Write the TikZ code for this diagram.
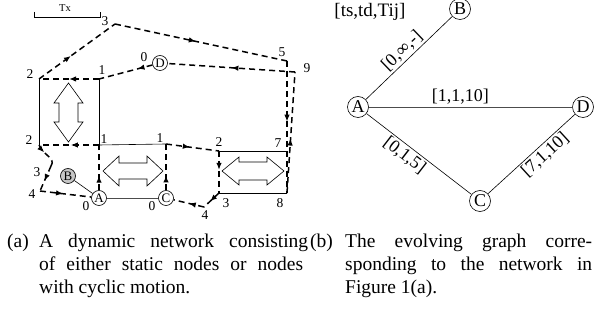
\documentclass[tikz,border=0pt]{standalone}
\usepackage{fontspec}
\setmainfont{Liberation Serif}
\usetikzlibrary{arrows.meta,decorations.markings}

\tikzset{
  trk/.style={line width=1.5pt, dash pattern=on 6pt off 4pt},
  midarr/.style={postaction={decorate,decoration={markings,
      mark=at position #1 with {\arrow{Latex[length=7pt,width=5.5pt]}}}}},
  midarr/.default=0.5,
  mob/.style={circle, draw, line width=0.6pt, fill=white, minimum size=15pt,
      inner sep=0pt, font=\fontsize{13}{13}\selectfont},
  gnode/.style={circle, draw, line width=0.6pt, fill=white, minimum size=21pt,
      inner sep=0pt, font=\fontsize{18}{18}\selectfont},
  lbl/.style={inner sep=0pt, font=\fontsize{13.5}{13.5}\selectfont},
  elbl/.style={inner sep=2pt, font=\fontsize{18}{18}\selectfont},
  captxt/.style={inner sep=0pt, font=\fontsize{19.5}{23}\selectfont},
  rim/.style={line width=0.6pt},
  dbl/.style={line width=0.6pt, fill=white}
}

\begin{document}
\begin{tikzpicture}[x=1pt, y=-1pt]
    \useasboundingbox (0,0) rectangle (597,320);

    % (a) the network
    \coordinate (txa) at (34,17);
    \coordinate (txb) at (100,17);
    \draw[rim] (txa) ++(0,-5) -- (txa) -- (txb) -- ++(0,-5);
    \node[font=\fontsize{10.5}{10.5}\selectfont] (txlbl) at (65,8) {Tx};

    % corners of the tracks
    \coordinate (d1) at (99,79);
    \coordinate (d2) at (39,79);
    \coordinate (d3) at (115,24);
    \coordinate (d5) at (287,61);
    \coordinate (d7) at (287,151);
    \coordinate (d8) at (287,193);
    \coordinate (d9) at (295,72);
    \coordinate (a1) at (99,145);
    \coordinate (a2) at (39,145);
    \coordinate (a3) at (51,166);
    \coordinate (a4) at (40,191);
    \coordinate (c1) at (166,144);
    \coordinate (c2) at (219,151);
    \coordinate (c3) at (219,193);
    \coordinate (c4) at (204,207);

    \node[mob] (D) at (160,63) {D};
    \node[mob] (A) at (99,198) {A};
    \node[mob] (C) at (166,198) {C};
    \node[mob, fill=gray!45] (B) at (68,176) {B};

    % contact areas
    \draw[rim] (d2) -- (a2);
    \draw[rim] (d1) -- (a1);
    \draw[rim] (a1) -- (c1);
    \draw[rim] (c2) -- (d7);
    \draw[rim] (c3) -- (d8);
    \draw[rim] (B) -- (A);
    \draw[rim, gray!60!black] (A) -- (C);

    \draw[dbl] (68.5,83) -- (83,103) -- (78,103) -- (78,122) -- (83,122) -- (68.5,142)
        -- (54,122) -- (59,122) -- (59,103) -- (54,103) -- cycle;
    \draw[dbl] (103,171) -- (119,156) -- (119,163) -- (147,163) -- (147,156) -- (163,171)
        -- (147,186) -- (147,179) -- (119,179) -- (119,186) -- cycle;
    \draw[dbl] (222,171) -- (239,157) -- (239,162) -- (267,162) -- (267,157) -- (284,171)
        -- (267,185) -- (267,180) -- (239,180) -- (239,185) -- cycle;

    % track of D
    \draw[trk, midarr=0.28] (D) -- (d1);
    \draw[trk, midarr] (d1) -- (d2);
    \draw[trk, midarr=0.42] (d2) -- (d3);
    \draw[trk, midarr=0.47] (d3) -- (d5);
    \draw[trk, midarr=0.46] (d5) -- (d8);
    \draw[trk, midarr=0.45] (d8) -- (d9);
    \draw[trk, midarr] (d9) -- (D);

    % track of A
    \draw[trk, midarr=0.32] (A) -- (a1);
    \draw[trk, midarr=0.47] (a1) -- (a2);
    \draw[trk, midarr=0.35] (a2) .. controls (44,156) and (56,158) .. (a3);
    \draw[trk, midarr=0.6] (a3) -- (a4);
    \draw[trk, midarr=0.45] (a4) -- (A);

    % track of C
    \draw[trk, midarr=0.32] (C) -- (c1);
    \draw[trk, midarr=0.45] (c1) -- (c2);
    \draw[trk, midarr=0.45] (c2) -- (c3);
    \draw[trk, midarr=0.6] (c3) -- (c4);
    \draw[trk, midarr=0.5] (c4) -- (C);

    % times
    \node[lbl] (t-d0) at (144,57) {0};
    \node[lbl] (t-d1) at (102,70) {1};
    \node[lbl] (t-d2) at (30,74) {2};
    \node[lbl] (t-d3) at (105,21) {3};
    \node[lbl] (t-d5) at (282,52) {5};
    \node[lbl] (t-d7) at (278,143) {7};
    \node[lbl] (t-d8) at (280,203) {8};
    \node[lbl] (t-d9) at (307,68) {9};
    \node[lbl] (t-a0) at (86,206) {0};
    \node[lbl] (t-a1) at (104,139) {1};
    \node[lbl] (t-a2) at (29,140) {2};
    \node[lbl] (t-a3) at (37,172) {3};
    \node[lbl] (t-a4) at (32,194) {4};
    \node[lbl] (t-c0) at (152,206) {0};
    \node[lbl] (t-c1) at (160,138) {1};
    \node[lbl] (t-c2) at (219,142) {2};
    \node[lbl] (t-c3) at (226,203) {3};
    \node[lbl] (t-c4) at (205,215) {4};

    % (b) the evolving graph
    \node[gnode] (gA) at (358,107) {A};
    \node[gnode] (gB) at (460,9) {B};
    \node[gnode] (gC) at (480,201) {C};
    \node[gnode] (gD) at (583,107) {D};
    \node[font=\fontsize{19}{19}\selectfont] (hdr) at (370,12) {[ts,td,Tij]};
    \draw[rim] (gA) -- node[elbl, sloped, above] {[0,∞,-]} (gB);
    \draw[line width=0.9pt, gray!60!black] (gA) -- node[elbl, above, pos=0.45, black] {[1,1,10]} (gD);
    \draw[rim] (gA) -- node[elbl, sloped, below, pos=0.42] {[0,1,5]} (gC);
    \draw[rim] (gC) -- node[elbl, sloped, below, pos=0.58] {[7,1,10]} (gD);

    % captions
    \node[captxt, anchor=base west] (capa) at (7,248) {\begin{tabular}[t]{@{}p{32pt}@{}l@{}}
        (a)&\makebox[269pt][s]{A dynamic network consisting}\\
        &\makebox[264pt][s]{of either static nodes or nodes}\\
        &with cyclic motion.\end{tabular}};
    \node[captxt, anchor=base west] (capb) at (310,248) {\begin{tabular}[t]{@{}p{35pt}@{}l@{}}
        (b)&\makebox[247pt][s]{The evolving graph corre-}\\
        &\makebox[247pt][s]{sponding to the network in}\\
        &Figure 1(a).\end{tabular}};
\end{tikzpicture}
\end{document}
